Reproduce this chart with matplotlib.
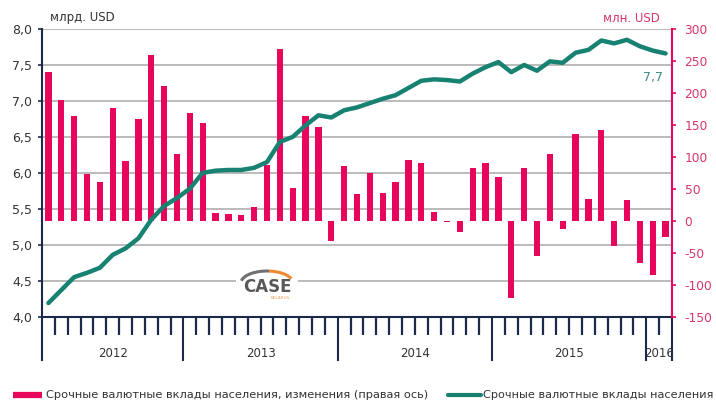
import numpy as np
import matplotlib
matplotlib.use('Agg')
import matplotlib.pyplot as plt
from matplotlib.lines import Line2D
from matplotlib.patches import Arc

plt.rcParams['font.family'] = ['DejaVu Sans']
plt.rcParams['axes.unicode_minus'] = False

# months Feb 2012 .. Feb 2016
years = ['2012', '2013', '2014', '2015', '2016']
months_per_year = [11, 12, 12, 12, 2]

# change of deposits, mln USD (right axis)
deposit_change = [232, 189, 164, 73, 61, 177, 93, 159, 259, 211, 104,
                  168, 153, 12, 10, 9, 22, 88, 268, 52, 164, 146, -32,
                  86, 42, 74, 44, 61, 95, 90, 14, -2, -17, 83, 91,
                  69, -120, 83, -55, 104, -13, 136, 34, 142, -39, 33, -66,
                  -85, -26]

# deposits stock, bn USD (left axis)
deposit_stock = [4.19, 4.37, 4.55, 4.61, 4.68, 4.86, 4.95, 5.09, 5.35, 5.54, 5.65,
                 5.78, 6.00, 6.03, 6.04, 6.04, 6.07, 6.15, 6.43, 6.50, 6.66, 6.80, 6.77,
                 6.87, 6.91, 6.97, 7.03, 7.08, 7.18, 7.28, 7.30, 7.29, 7.27, 7.38, 7.47,
                 7.54, 7.40, 7.50, 7.42, 7.55, 7.53, 7.67, 7.71, 7.84, 7.80, 7.85, 7.76,
                 7.70, 7.66]

left_ticks = [4.0, 4.5, 5.0, 5.5, 6.0, 6.5, 7.0, 7.5, 8.0]
right_ticks = [-150, -100, -50, 0, 50, 100, 150, 200, 250, 300]
last_label = '7,7'

PINK = '#E8065C'
PINK_TXT = '#D8346F'
TEAL = '#178272'
NAVY = '#1B2A4A'
GRID = '#A8A8A8'

W, H = 716, 403
fig = plt.figure(figsize=(W / 100, H / 100), dpi=100)
ax = fig.add_axes([42 / W, 1 - 316.7 / H, 630 / W, 287.7 / H])
ax2 = ax.twinx()
ax3 = ax.twiny()

x = np.arange(len(deposit_stock))
n = len(x)

# left axis / grid
ax.set_xlim(-0.5, n - 0.5)
ax.set_ylim(4, 8)
ax.set_yticks(left_ticks)
ax.set_yticklabels([f'{v:.1f}'.replace('.', ',') for v in left_ticks])
ax.yaxis.grid(True, color=GRID, lw=1.1)
ax.set_axisbelow(True)
ax.tick_params(axis='y', direction='out', length=3, width=1.2, color=NAVY,
               labelsize=9, labelcolor='#333333', pad=4)
for s in ['top', 'right']:
    ax.spines[s].set_visible(False)
ax.spines['left'].set_color(NAVY)
ax.spines['left'].set_linewidth(1.5)
ax.spines['bottom'].set_color(NAVY)
ax.spines['bottom'].set_linewidth(1.5)

# x axis: month ticks and year ticks
bounds = np.cumsum([0] + months_per_year) - 0.5
ax.set_xticks(bounds)
ax.set_xticklabels([''] * len(bounds))
ax.set_xticks([b for b in np.arange(-0.5, n, 1.0) if b not in bounds], minor=True)
ax.tick_params(axis='x', which='major', direction='out', length=31.5, width=1.5, color=NAVY)
ax.tick_params(axis='x', which='minor', direction='out', length=13, width=1.6, color=NAVY)
for i, y in enumerate(years):
    xc = (bounds[i] + bounds[i + 1]) / 2
    ax.text(xc, -0.128, y, transform=ax.get_xaxis_transform(), ha='center', va='center',
            fontsize=8.5, color='#333333')

# bars on the right axis
ax2.bar(x, deposit_change, width=0.48, color=PINK, zorder=2)
ax2.set_ylim(-150, 300)
ax2.set_yticks(right_ticks)
ax2.tick_params(axis='y', direction='out', length=3, width=1.2, color=PINK,
                labelsize=8.8, labelcolor=PINK_TXT, pad=6)
for s in ['top', 'left', 'bottom']:
    ax2.spines[s].set_visible(False)
ax2.spines['right'].set_color(PINK)
ax2.spines['right'].set_linewidth(1.5)

# line on top
ax3.plot(x, deposit_stock, color=TEAL, lw=3.2, solid_capstyle='round', solid_joinstyle='round')
ax3.set_xlim(ax.get_xlim())
ax3.xaxis.set_visible(False)
for s in ax3.spines.values():
    s.set_visible(False)
ax3.text(x[-1] - 0.2, deposit_stock[-1] - 0.33, last_label, ha='right', va='center',
         fontsize=9, color='#3C8C88')

# unit labels
fig.text(50 / W, 1 - 18 / H, 'млрд. USD', ha='left', va='center', fontsize=8.5, color='#333333')
fig.text(660 / W, 1 - 18 / H, 'млн. USD', ha='right', va='center', fontsize=8.5, color=PINK_TXT)

# legend
ly = 1 - 395 / H
fig.add_artist(Line2D([13 / W, 42 / W], [ly, ly], color=PINK, lw=4.5, solid_capstyle='butt'))
fig.text(46 / W, ly, 'Срочные валютные вклады населения, изменения (правая ось)',
         ha='left', va='center', fontsize=8.2, color='#333333')
fig.add_artist(Line2D([448 / W, 481 / W], [ly, ly], color=TEAL, lw=3, solid_capstyle='round'))
fig.text(483 / W, ly, 'Срочные валютные вклады населения',
         ha='left', va='center', fontsize=8.1, color='#333333')

# logo
lg = fig.add_axes([236 / W, 1 - 303 / H, 62 / W, 36 / H])
lg.set_xlim(0, 62)
lg.set_ylim(0, 36)
lg.set_facecolor('white')
for s in lg.spines.values():
    s.set_visible(False)
lg.set_xticks([])
lg.set_yticks([])
lg.add_patch(Arc((31, 20), 52, 24, theta1=80, theta2=175, color='#707070', lw=2.2))
lg.add_patch(Arc((31, 20), 52, 24, theta1=10, theta2=80, color='#F08A30', lw=2.2))
lg.text(31, 16, 'CASE', ha='center', va='center', fontsize=12, fontweight='bold', color='#585858')
lg.text(44, 5, 'BELARUS', ha='center', va='center', fontsize=3, color='#F0A060')

fig.savefig('out.png', dpi=100, facecolor='white')
